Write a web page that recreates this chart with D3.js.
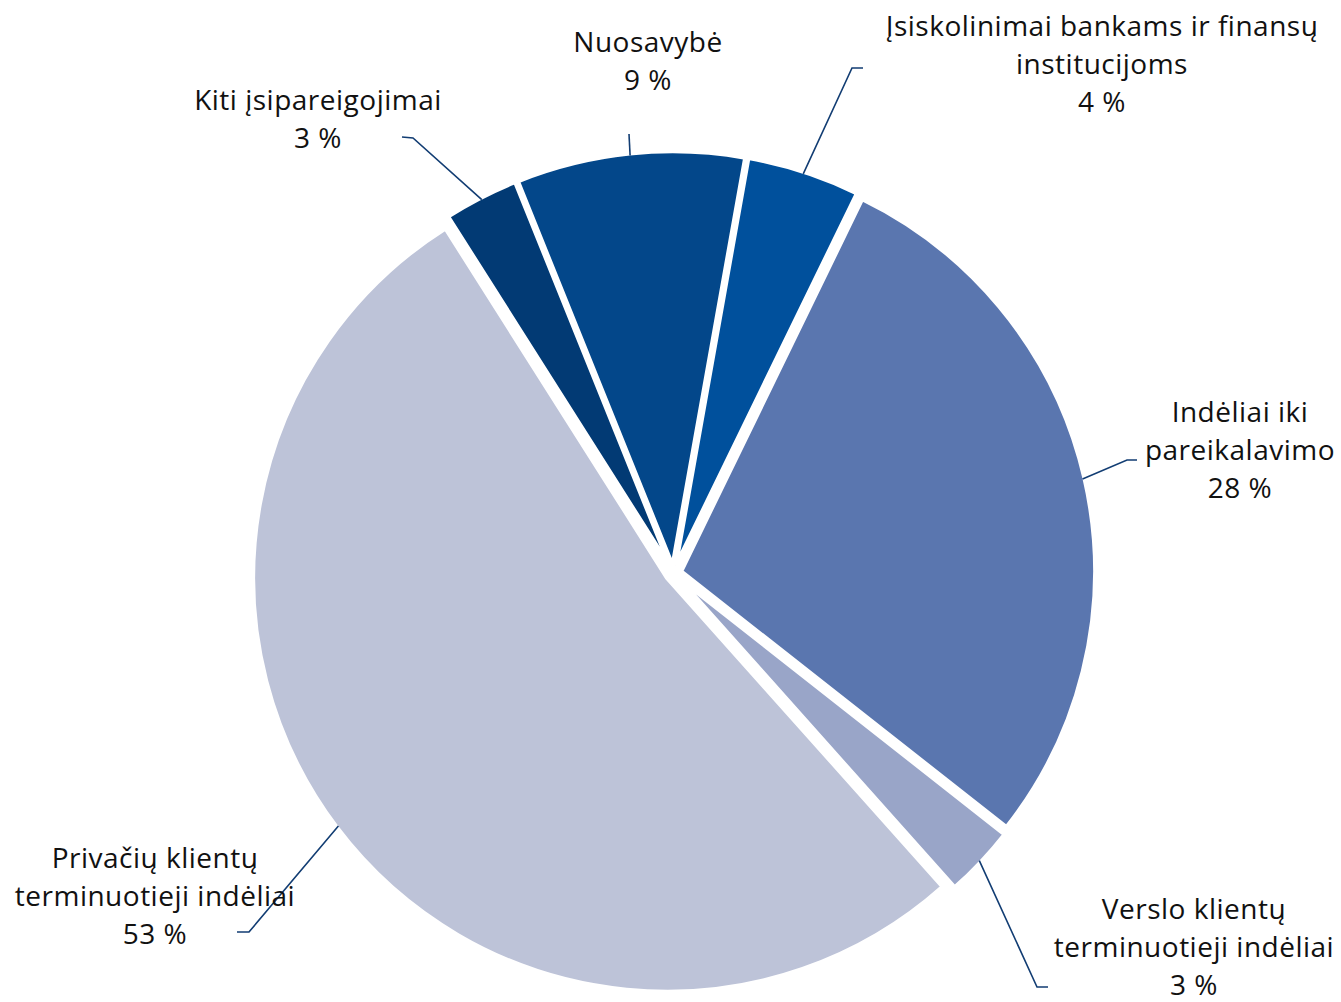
<!DOCTYPE html>
<html>
<head>
<meta charset="utf-8">
<script src="https://cdn.jsdelivr.net/npm/d3@7"></script>
<style>
    body { margin: 0; background: #fff; }
    svg text { font-family: "Open Sans", sans-serif; font-size: 28px; letter-spacing: 0.5px; fill: #111; }
</style>
</head>
<body>
<svg id="chart" width="1341" height="1002"></svg>
<script>
// slices in clockwise order, starting just right of 12 o'clock
const categories = [
    ["Įsiskolinimai bankams ir finansų", "institucijoms"],
    ["Indėliai iki", "pareikalavimo"],
    ["Verslo klientų", "terminuotieji indėliai"],
    ["Privačių klientų", "terminuotieji indėliai"],
    ["Kiti įsipareigojimai"],
    ["Nuosavybė"]
];
const shares = [4.4, 28.4, 2.8, 52.6, 2.9, 8.9];
const percentLabels = ["4 %", "28 %", "3 %", "53 %", "3 %", "9 %"];
const colors = ["#00509c", "#5a76af", "#99a5c8", "#bdc3d8", "#023a74", "#03478a"];

// label layout: text centre x, first baseline, leader elbow and leader end
const labelLayout = [
    { x: 1102, y: 36,  elbow: [852, 68],  end: [863, 68] },
    { x: 1240, y: 422, elbow: [1127, 460], end: [1137, 460] },
    { x: 1194, y: 919, elbow: [1037, 987], end: [1048, 987] },
    { x: 155,  y: 868, elbow: [249, 932], end: [237, 932] },
    { x: 318,  y: 110, elbow: [413, 138], end: [402, 137] },
    { x: 648,  y: 52,  elbow: [629, 134], end: [629, 134] }
];

window.addEventListener("DOMContentLoaded", draw);

function draw() {
    const svg = d3.select("#chart");
    const cx = 673.4, cy = 573.1;
    const radius = 413.8;
    const explode = 8;
    const lineHeight = 38;

    const pie = d3.pie()
          .sort(null)
          .startAngle(10.1 * Math.PI / 180)
          .endAngle(10.1 * Math.PI / 180 + 2 * Math.PI)
          .value((d) => d);
    const arcs = pie(shares);

    const arc = d3.arc().innerRadius(0).outerRadius(radius);

    function offset(d, dist) {
        const mid = (d.startAngle + d.endAngle) / 2;
        return [Math.sin(mid) * dist, -Math.cos(mid) * dist];
    }

    const chart = svg.append("g")
          .attr("transform", `translate(${cx},${cy})`);

    chart.selectAll(".slice")
        .data(arcs)
        .enter().append("path")
        .attr("class", "slice")
        .attr("transform", (d) => `translate(${offset(d, explode)})`)
        .attr("d", arc)
        .style("fill", (d, i) => colors[i])
        .style("stroke", "#fff")
        .style("stroke-width", 4)
        .style("stroke-linejoin", "miter");

    // leader lines from the middle of each slice's rim
    const leader = d3.line();
    svg.selectAll(".leader")
        .data(arcs)
        .enter().append("path")
        .attr("class", "leader")
        .attr("d", function(d, i) {
            const start = offset(d, radius - 2 + explode);
            const lay = labelLayout[i];
            return leader([[cx + start[0], cy + start[1]], lay.elbow, lay.end]);
        })
        .style("fill", "none")
        .style("stroke", "#123d73")
        .style("stroke-width", 1.6);

    const labels = svg.selectAll(".label")
          .data(arcs)
          .enter().append("text")
          .attr("class", "label")
          .attr("text-anchor", "middle");

    labels.each(function(d, i) {
        const lines = categories[i].concat([percentLabels[i]]);
        const lay = labelLayout[i];
        d3.select(this).selectAll("tspan")
            .data(lines)
            .enter().append("tspan")
            .attr("x", lay.x)
            .attr("y", (t, j) => lay.y + j * lineHeight)
            .text((t) => t);
    });
}
</script>
</body>
</html>
